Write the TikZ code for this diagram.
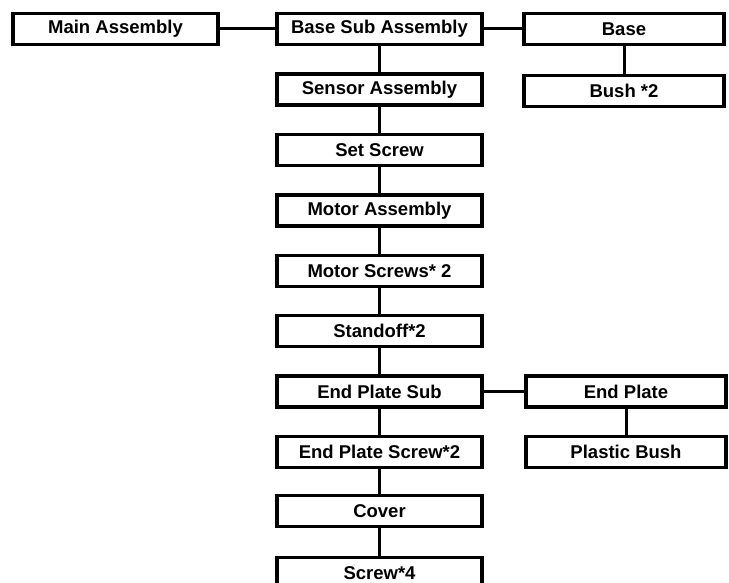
\documentclass[tikz,border=0pt]{standalone}
\usepackage{fontspec}
\setmainfont{Liberation Sans}
\begin{document}
\begin{tikzpicture}[x=1pt,y=-1pt,
  part/.style={draw=black,line width=3.4pt,fill=white,minimum width=205pt,minimum height=31pt,
    inner sep=0pt,font=\fontsize{18.5}{20}\selectfont\bfseries},
  rpart/.style={part,minimum width=200pt},
  link/.style={draw=black,line width=3pt}]
\useasboundingbox (0,0) rectangle (729,583);
\node[part] (main) at (115.5,29) {Main Assembly};
\node[part] (c0) at (379.5,29) {Base Sub Assembly};
\node[part] (c1) at (379.5,89.5) {Sensor Assembly};
\node[part] (c2) at (379.5,150) {Set Screw};
\node[part] (c3) at (379.5,210.5) {Motor Assembly};
\node[part] (c4) at (379.5,271) {Motor Screws* 2};
\node[part] (c5) at (379.5,331) {Standoff*2};
\node[part] (c6) at (379.5,391.5) {End Plate Sub};
\node[part] (c7) at (379.5,452) {End Plate Screw*2};
\node[part] (c8) at (379.5,511) {Cover};
\node[part] (c9) at (379.5,573) {Screw*4};
\node[rpart] (base) at (624,29) {Base};
\node[rpart] (bush) at (624,91) {Bush *2};
\node[rpart] (ep) at (626,391.5) {End Plate};
\node[rpart] (pb) at (626,452) {Plastic Bush};
\draw[link] (main) -- (c0);
\draw[link] (c0) -- (base);
\draw[link] (base) -- (bush);
\draw[link] (c6) -- (ep);
\draw[link] (ep) -- (pb);
\foreach \a/\b in {c0/c1,c1/c2,c2/c3,c3/c4,c4/c5,c5/c6,c6/c7,c7/c8,c8/c9}
  \draw[link] (\a) -- (\b);
\end{tikzpicture}
\end{document}
